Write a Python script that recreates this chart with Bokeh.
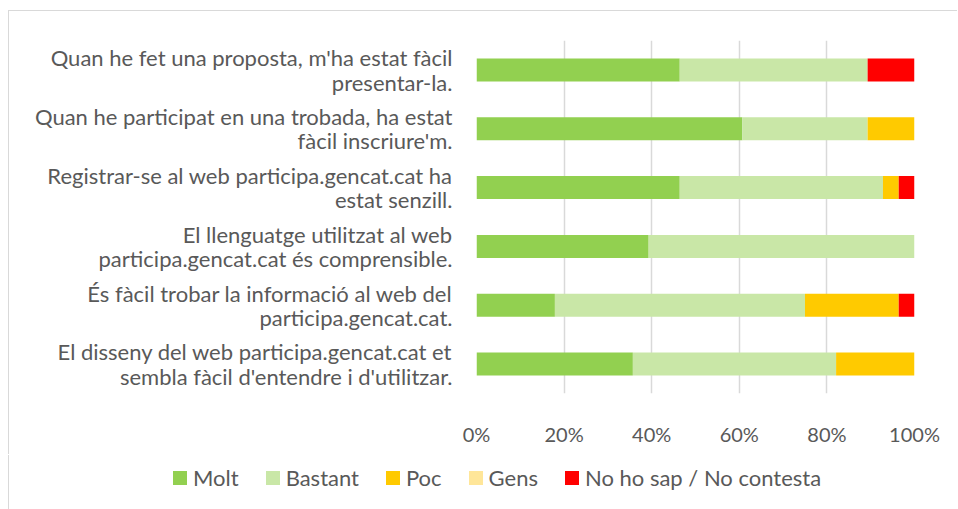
from bokeh.plotting import figure
from bokeh.models import FactorRange, FixedTicker, PrintfTickFormatter, Div
from bokeh.layouts import column
from bokeh.embed import file_html
from bokeh.resources import INLINE

categories = [
    "Quan he fet una proposta, m'ha estat fàcil\npresentar-la.",
    "Quan he participat en una trobada, ha estat\nfàcil inscriure'm.",
    "Registrar-se al web participa.gencat.cat ha\nestat senzill.",
    "El llenguatge utilitzat al web\nparticipa.gencat.cat és comprensible.",
    "És fàcil trobar la informació al web del\nparticipa.gencat.cat.",
    "El disseny del web participa.gencat.cat et\nsembla fàcil d'entendre i d'utilitzar.",
]
series = ["Molt", "Bastant", "Poc", "Gens", "No ho sap / No contesta"]
molt = [46.4, 60.7, 46.4, 39.3, 17.9, 35.7]
bastant = [42.9, 28.6, 46.4, 60.7, 57.1, 46.4]
poc = [0.0, 10.7, 3.6, 0.0, 21.4, 17.9]
gens = [0.0, 0.0, 0.0, 0.0, 0.0, 0.0]
nsnc = [10.7, 0.0, 3.6, 0.0, 3.6, 0.0]
colors = ["#92D050", "#C9E7A7", "#FFCA00", "#FFE699", "#FF0000"]
x_ticks = [0, 20, 40, 60, 80, 100]

FONT = "Lato"
TXT = "#595959"
BORDER = "#d9d9d9"

data = {"cat": categories, "Molt": molt, "Bastant": bastant, "Poc": poc,
        "Gens": gens, "No ho sap / No contesta": nsnc}

# ---- main chart
p = figure(width=949, height=444, output_backend="svg", toolbar_location=None,
           y_range=FactorRange(*list(reversed(categories))), x_range=(0, 100),
           min_border_left=467, min_border_right=44, min_border_top=29,
           min_border_bottom=62)
p.margin = (11, 0, 0, 9)
p.styles = {"box-shadow": "-1px -1px 0 " + BORDER}
p.outline_line_color = None

renderers = p.hbar_stack(series, y="cat", height=0.39, fill_color=colors,
                         line_color=None, source=data)

p.xaxis.ticker = FixedTicker(ticks=x_ticks)
p.xaxis.formatter = PrintfTickFormatter(format="%d%%")
p.xaxis.axis_line_color = None
p.xaxis.major_tick_line_color = None
p.xaxis.minor_tick_line_color = None
p.xaxis.major_label_standoff = 22
p.xaxis.major_label_text_font = FONT
p.xaxis.major_label_text_font_size = "20px"
p.xaxis.major_label_text_color = TXT

p.yaxis.axis_line_color = None
p.yaxis.major_tick_line_color = None
p.yaxis.major_label_standoff = 18
p.yaxis.major_label_text_font = FONT
p.yaxis.major_label_text_font_size = "22px"
p.yaxis.major_label_text_line_height = 0.9
p.yaxis.major_label_text_color = TXT

p.xgrid.ticker = FixedTicker(ticks=x_ticks)
p.xgrid.grid_line_color = BORDER
p.xgrid.grid_line_width = 1.5
p.ygrid.grid_line_color = None

# ---- legend strip built from the same series names and colours
items_html = "".join(
    f"<span style='display:inline-block;width:14px;height:14px;background:{c};"
    f"margin-right:6px'></span><span style='margin-right:27px'>{s}</span>"
    for s, c in zip(series, colors)
)
legend_html = (
    "<div style='display:flex;align-items:center;height:46px;padding-left:164px;"
    f"font-family:{FONT};font-size:22px;color:{TXT};white-space:nowrap'>"
    + items_html + "</div>"
)
lg = Div(text=legend_html, width=949, height=54)
lg.margin = (0, 0, 0, 9)
lg.styles = {"box-shadow": "-1px 0 0 " + BORDER}

layout = column(p, lg, spacing=0)
open("out.html", "w").write(file_html(layout, INLINE))
